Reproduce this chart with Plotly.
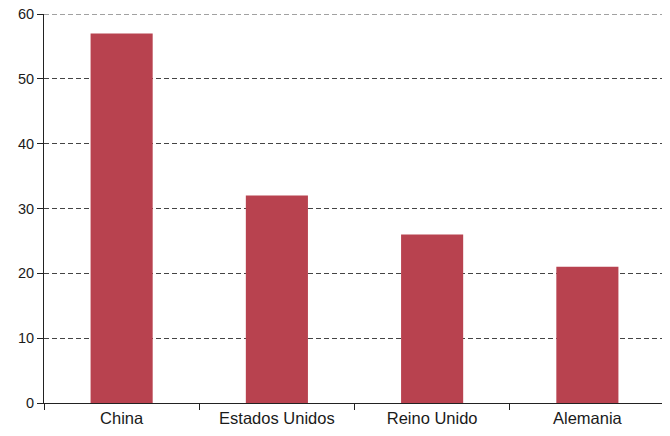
import plotly.graph_objects as go

categories = ["China", "Estados Unidos", "Reino Unido", "Alemania"]
values = [57, 32, 26, 21]
y_ticks = [0, 10, 20, 30, 40, 50, 60]

fig = go.Figure(go.Bar(x=categories, y=values, marker=dict(color="#B8424F", line=dict(width=0)), width=0.4))

fig.update_layout(
    width=670, height=436,
    margin=dict(l=36, r=13, t=6, b=41),
    paper_bgcolor="white", plot_bgcolor="white",
    font=dict(family="Liberation Sans, Arial, sans-serif", size=16.5, color="#1a1a1a"),
    showlegend=False,
)
fig.update_xaxes(
    automargin=False,
    showline=True, linecolor="#222", linewidth=1,
    ticks="outside", ticklen=6, tickcolor="#222", tickson="boundaries",
    showgrid=False, fixedrange=True,
)
fig.update_yaxes(
    automargin=False, ticklabeloverflow="allow",
    range=[0, 60], tickvals=y_ticks,
    tickfont=dict(size=14.5),
    showline=True, linecolor="#222", linewidth=1,
    ticks="outside", ticklen=6, tickcolor="#222",
    showgrid=True, gridcolor="#444", griddash="5px,3px", gridwidth=1,
    zeroline=False, layer="below traces",
)
# top gridline (plotly drops the grid line at the range edge)
fig.add_shape(type="line", xref="paper", x0=0, x1=1, yref="y", y0=y_ticks[-1], y1=y_ticks[-1],
              line=dict(color="#444", width=1, dash="5px,3px"), layer="below")
fig.write_html("out.html")
